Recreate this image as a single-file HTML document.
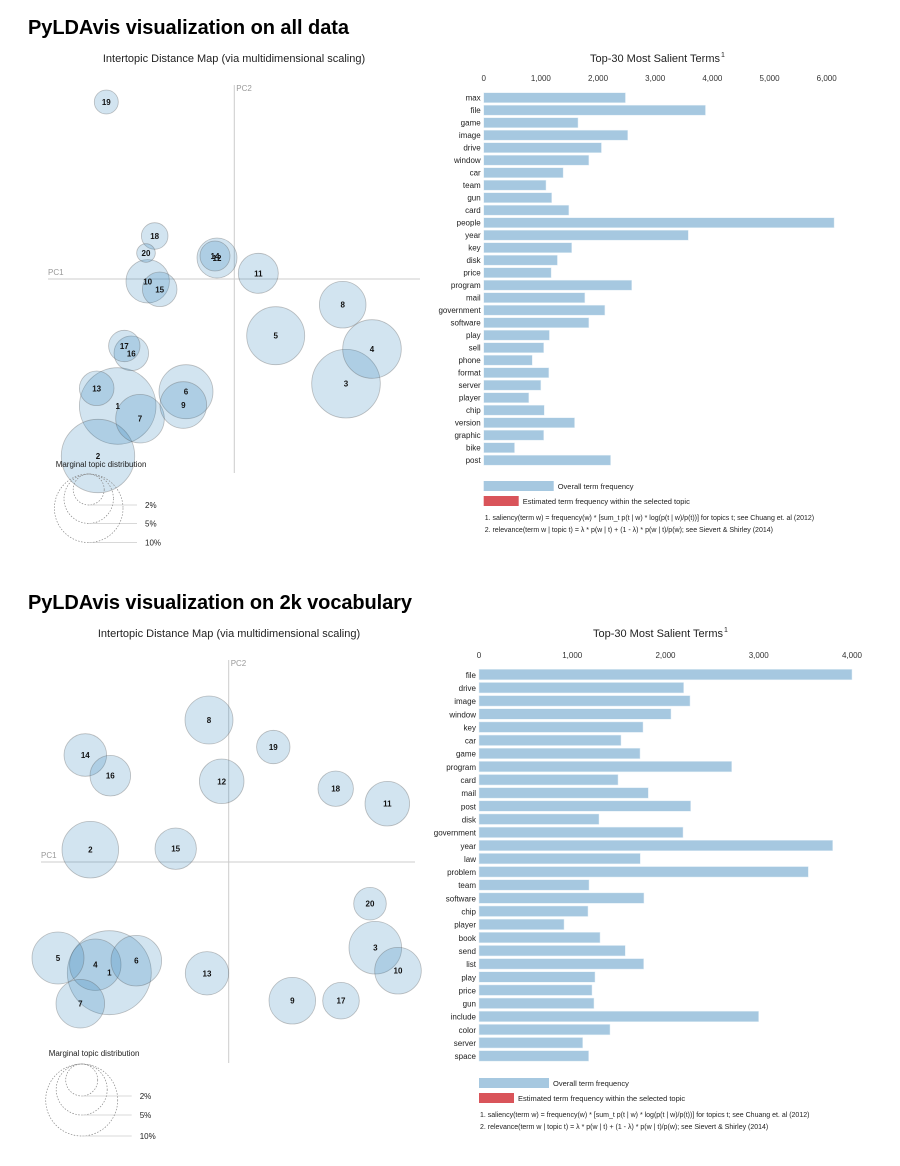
<!DOCTYPE html>
<html><head><meta charset="utf-8"><style>
body{margin:0;background:#fff;width:900px;height:1166px;overflow:hidden}
svg{display:block;font-family:"Liberation Sans",sans-serif}
</style></head><body>
<svg id="s" width="900" height="1166" viewBox="0 0 900 1166">
<text x="28" y="34" font-size="20" font-weight="bold" textLength="321">PyLDAvis visualization on all data</text>
<text x="28" y="609" font-size="20" font-weight="bold" textLength="384">PyLDAvis visualization on 2k vocabulary</text>
</svg>
<script>
// ---- data: top panel ----
const topTerms=["max","file","game","image","drive","window","car","team","gun","card","people","year","key","disk","price","program","mail","government","software","play","sell","phone","format","server","player","chip","version","graphic","bike","post"];
const topFreq=[2480,3880,1650,2520,2060,1840,1390,1090,1190,1490,6130,3580,1540,1290,1180,2590,1770,2120,1840,1150,1050,850,1140,1000,790,1060,1590,1050,540,2220];
const topTicks=[0,1000,2000,3000,4000,5000,6000];
const topTickLabels=["0","1,000","2,000","3,000","4,000","5,000","6,000"];
const topTopics=["1","2","3","4","5","6","7","8","9","10","11","12","13","14","15","16","17","18","19","20"];
const topPC1=[117.7,98,346,372,275.7,186,140,342.7,183.3,147.7,258.3,217,96.7,215,159.7,131.3,124.3,154.7,106.3,146];
const topPC2=[406,456,383.7,349,335.7,391.7,418.7,304.7,405,281.3,273.3,258,388.3,256,289.3,353.3,346,236,102,253];
const topSize=[38.3,36.7,34.3,29.3,29,27,24.3,23.3,23.3,21.7,20,20,17.3,15,17.3,17.3,15.7,13.3,12,9.3];
// ---- data: bottom panel ----
const botTerms=["file","drive","image","window","key","car","game","program","card","mail","post","disk","government","year","law","problem","team","software","chip","player","book","send","list","play","price","gun","include","color","server","space"];
const botFreq=[4000,2195,2263,2059,1759,1523,1727,2710,1491,1816,2270,1287,2188,3793,1730,3532,1180,1769,1169,912,1298,1569,1766,1244,1212,1233,2999,1405,1112,1176];
const botTicks=[0,1000,2000,3000,4000];
const botTickLabels=["0","1,000","2,000","3,000","4,000"];
const botTopics=["1","2","3","4","5","6","7","8","9","10","11","12","13","14","15","16","17","18","19","20"];
const botPC1=[109.3,90.3,375.3,95.3,58,136.3,80.3,209,292.3,398,387.3,221.7,207,85.3,175.7,110.3,341,335.7,273.3,370];
const botPC2=[972.7,849.7,947.7,964.7,958,960.7,1003.7,720,1000.7,970.7,803.7,781.3,973.3,755,848.7,775.7,1000.7,788.7,747,903.7];
const botSize=[42,28.3,26.3,25.7,26,25.3,24.3,24,23.3,23.3,22.3,22.3,21.7,21.3,20.7,20.3,18.3,17.7,16.7,16.3];
const legendLabels=["2%","5%","10%"];

const S=document.getElementById('s');
const NS="http://www.w3.org/2000/svg";
function el(tag,attrs,txt){const e=document.createElementNS(NS,tag);for(const k in attrs)e.setAttribute(k,attrs[k]);if(txt!==undefined)e.textContent=txt;S.appendChild(e);return e;}

function scatter(P,pc1,pc2,size,topics,pre){
  let e=el('text',{x:P.titleX,y:P.titleY,'font-size':11,'text-anchor':'middle',fill:'#222'},'Intertopic Distance Map (via multidimensional scaling)');
  
  
  e=el('line',{x1:P.ax,y1:P.vy0,x2:P.ax,y2:P.vy1,stroke:'#ccc','stroke-width':1});
  
  
  e=el('line',{x1:P.hx0,y1:P.ay,x2:P.hx1,y2:P.ay,stroke:'#ccc','stroke-width':1});
  
  
  e=el('text',{x:P.ax+2,y:P.vy0+6,'font-size':8,fill:'#999'},'PC2');
  
  
  e=el('text',{x:P.hx0,y:P.ay-4,'font-size':8,fill:'#999'},'PC1');
  
  
  for(let i=0;i<topics.length;i++){
    e=el('circle',{cx:pc1[i],cy:pc2[i],r:size[i],fill:'rgba(31,119,180,0.2)',stroke:'rgba(80,80,80,0.35)','stroke-width':0.8});
    
    
  }
  for(let i=0;i<topics.length;i++){
    e=el('text',{x:pc1[i],y:pc2[i]+3,'font-size':8,'font-weight':'bold','text-anchor':'middle',fill:'#111'},topics[i]);
    
    
  }
  e=el('text',{x:P.mx,y:P.my,'font-size':8,fill:'#222'},'Marginal topic distribution');
  
  
  for(let i=0;i<3;i++){
    const r=P.lr[i];
    e=el('circle',{cx:P.lcx,cy:P.ltop+r,r:r,fill:'none',stroke:'#888','stroke-width':0.7,'stroke-dasharray':'1.5,1.5'});
    
    
    e=el('line',{x1:P.lcx,y1:P.ltop+2*r,x2:P.lx1,y2:P.ltop+2*r,stroke:'#ccc','stroke-width':0.8});
    
    
    e=el('text',{x:P.lx1+8,y:P.ltop+2*r+3,'font-size':8,fill:'#222'},legendLabels[i]);
    
    
  }
}

function bars(P,terms,freq,ticks,tickLabels,pre){
  const xs=v=>P.x0+(v/P.max)*P.w;
  let e=el('text',{x:P.titleX,y:P.titleY,'font-size':11,'text-anchor':'middle',fill:'#222'},'Top-30 Most Salient Terms');
  
  
  e=el('text',{x:P.titleX+66,y:P.titleY-5,'font-size':7,fill:'#222'},'1');
  
  
  for(let i=0;i<ticks.length;i++){
    e=el('text',{x:xs(ticks[i]),y:P.tickY,'font-size':8,'text-anchor':'middle',fill:'#333'},tickLabels[i]);
    
    
  }
  for(let i=0;i<terms.length;i++){
    const y=P.y0+i*P.pitch;
    e=el('rect',{x:P.x0,y:y,width:xs(freq[i])-P.x0,height:P.bh,fill:'#a6c8e0',stroke:'#e6f0f7','stroke-width':0.5});
    
    
    e=el('text',{x:P.x0-3,y:y+P.bh-2,'font-size':8,'text-anchor':'end',fill:'#222'},terms[i]);
    
    
  }
  const ly=P.legY;
  e=el('rect',{x:P.x0,y:ly,width:70,height:10,fill:'#a6c8e0'});
  
  
  e=el('text',{x:P.x0+74,y:ly+8,'font-size':7.5,fill:'#222'},'Overall term frequency');
  
  
  e=el('rect',{x:P.x0,y:ly+15,width:35,height:10,fill:'#d9545a'});
  
  
  e=el('text',{x:P.x0+39,y:ly+23,'font-size':7.5,fill:'#222'},'Estimated term frequency within the selected topic');
  
  
  e=el('text',{x:P.x0+1,y:ly+39,'font-size':7,fill:'#222'},'1. saliency(term w) = frequency(w) * [sum_t p(t | w) * log(p(t | w)/p(t))] for topics t; see Chuang et. al (2012)');
  
  
  e=el('text',{x:P.x0+1,y:ly+51,'font-size':7,fill:'#222'},'2. relevance(term w | topic t) = \u03bb * p(w | t) + (1 - \u03bb) * p(w | t)/p(w); see Sievert & Shirley (2014)');
  
  
}

scatter({titleX:234,titleY:62,ax:234.3,vy0:85,vy1:473,hx0:48,hx1:420,ay:279,mx:55.7,my:467,lcx:88.7,ltop:474,lr:[15.5,24.7,34.3],lx1:137},
  topPC1,topPC2,topSize,topTopics,'top');
scatter({titleX:229,titleY:637,ax:228.7,vy0:660,vy1:1063,hx0:41,hx1:415,ay:862,mx:48.7,my:1056,lcx:81.7,ltop:1064,lr:[16,25.5,36],lx1:131.7},
  botPC1,botPC2,botSize,botTopics,'bottom');
bars({titleX:655,titleY:62,x0:483.7,w:343,max:6000,tickY:81,y0:92.7,pitch:12.5,bh:10,legY:481},
  topTerms,topFreq,topTicks,topTickLabels,'top');
bars({titleX:658,titleY:637,x0:479,w:373,max:4000,tickY:658,y0:669.3,pitch:13.15,bh:10.5,legY:1078},
  botTerms,botFreq,botTicks,botTickLabels,'bottom');
</script>
</body></html>
